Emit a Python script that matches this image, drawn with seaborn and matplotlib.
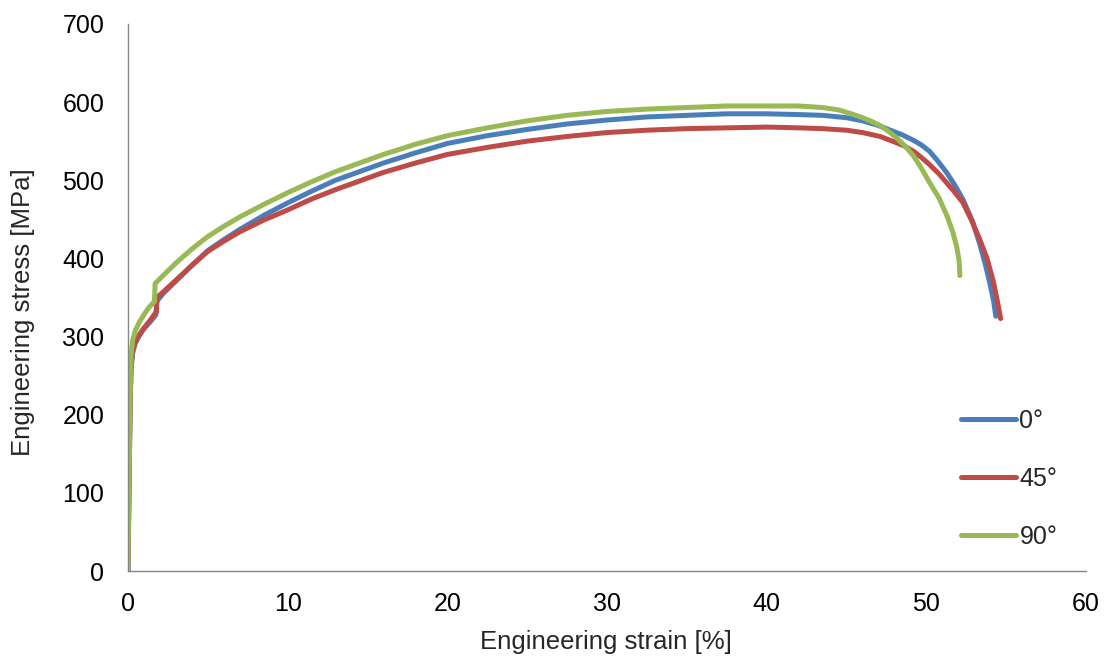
import matplotlib
matplotlib.use("Agg")
import matplotlib.pyplot as plt
import seaborn as sns
import pandas as pd

# ---- data ----
strain_0 = [0, 0.05, 0.1, 0.15, 0.2, 0.3, 0.45, 0.7, 1.0, 1.4, 1.75, 1.8, 2.2, 3, 4, 5, 6, 7,
            8.5, 10, 11.5, 13, 14.5, 16, 18, 20, 22.5, 25, 27.5, 30, 32.5, 35, 37.5, 40,
            42, 43.5, 45, 46, 47, 48, 48.5, 49.2, 49.7, 50.2, 50.7, 51.3, 51.8, 52.3,
            52.9, 53.35, 53.7, 54.0, 54.2, 54.35]
stress_0 = [0, 80, 160, 230, 262, 280, 291, 301, 310, 319, 328, 345, 355, 371, 391, 410, 424, 437,
            455, 471, 486, 500, 511, 522, 535, 547, 557, 565, 572, 577, 581, 583, 585, 585,
            584, 583, 580, 576, 570, 562, 558, 551, 545, 537, 525, 509, 493, 475,
            447, 418, 392, 366, 347, 326]

strain_45 = [0, 0.05, 0.1, 0.15, 0.2, 0.3, 0.45, 0.7, 1.0, 1.4, 1.78, 1.82, 2.2, 3, 4, 5, 6, 7,
             8.5, 10, 11.5, 13, 14.5, 16, 18, 20, 22.5, 25, 27.5, 30, 32.5, 35, 37.5, 40,
             42, 43.5, 45, 46, 47.1, 48, 48.6, 49.2, 49.7, 50.2, 50.8, 51.3, 51.8, 52.3,
             52.8, 53.35, 53.8, 54.2, 54.45, 54.65]
stress_45 = [0, 80, 160, 230, 262, 282, 293, 302, 311, 321, 332, 350, 357, 372, 391, 409, 422, 434,
             449, 462, 476, 488, 499, 510, 522, 533, 542, 550, 556, 561, 564, 566, 567, 568,
             567, 566, 564, 561, 556, 549, 544, 537, 529, 520, 508, 496, 484, 471,
             450, 424, 400, 370, 345, 323]

strain_90 = [0, 0.05, 0.1, 0.15, 0.2, 0.3, 0.45, 0.7, 1.0, 1.3, 1.66, 1.7, 2.2, 3, 4, 5, 6, 7,
             8.5, 10, 11.5, 13, 14.5, 16, 18, 20, 22.5, 25, 27.5, 30, 32.5, 35, 37.5, 40,
             42, 43.5, 44.5, 45.3, 46, 46.6, 47.1, 47.6, 48.2, 48.7, 49.2, 49.7, 50.2,
             50.8, 51.3, 51.65, 51.9, 52.05, 52.1]
stress_90 = [0, 90, 170, 245, 278, 296, 307, 318, 328, 337, 345, 368, 378, 394, 412, 428, 441, 453,
             469, 484, 498, 511, 522, 533, 546, 557, 567, 576, 583, 588, 591, 593, 595, 595,
             595, 593, 590, 585, 580, 575, 570, 563, 553, 543, 531, 515, 497,
             477, 454, 434, 415, 397, 378]

labels = ["0°", "45°", "90°"]
colors = ["#4A7EBB", "#BE4B48", "#98B954"]
x_ticks = [0, 10, 20, 30, 40, 50, 60]
y_ticks = [0, 100, 200, 300, 400, 500, 600, 700]

frames = []
for lab, sx, sy in zip(labels, [strain_0, strain_45, strain_90],
                       [stress_0, stress_45, stress_90]):
    d = pd.DataFrame({"strain": sx, "stress": sy})
    d["orientation"] = lab
    frames.append(d)
df = pd.concat(frames, ignore_index=True)

sns.set_style("white")
plt.rcParams["font.family"] = ["Liberation Sans", "DejaVu Sans"]

fig = plt.figure(figsize=(11.1, 6.64), dpi=100)
ax = fig.add_axes([0.1153, 0.140, 0.8631, 0.824])

sns.lineplot(data=df, x="strain", y="stress", hue="orientation",
             palette=colors, hue_order=labels, sort=False, estimator=None,
             units="orientation", linewidth=3.6, ax=ax, legend=True)

ax.set_xlim(0, 60)
ax.set_ylim(0, 700)
ax.set_xticks(x_ticks)
ax.set_yticks(y_ticks)
for s in ["top", "right"]:
    ax.spines[s].set_visible(False)
for s in ["left", "bottom"]:
    ax.spines[s].set_color("#868686")
    ax.spines[s].set_linewidth(1.0)
ax.tick_params(axis="both", which="major", direction="out", length=6,
               width=1.0, color="#868686", labelsize=18, labelcolor="black")
ax.tick_params(axis="y", pad=11)
ax.tick_params(axis="x", pad=9)

ax.set_xlabel("Engineering strain [%]", fontsize=18.5)
ax.set_ylabel("Engineering stress [MPa]", fontsize=18.5)
ax.xaxis.set_label_coords(0.499, -0.108)
ax.yaxis.set_label_coords(-0.097, 0.473)

leg = ax.legend(loc="upper left", bbox_to_anchor=(0.870, 0.297),
                frameon=False, fontsize=18, handlelength=2.2,
                handletextpad=0.12, labelspacing=1.36, borderpad=0,
                borderaxespad=0)
for line in leg.get_lines():
    line.set_linewidth(3.6)
    line.set_solid_capstyle("round")
for line in ax.get_lines():
    line.set_solid_capstyle("round")
    line.set_solid_joinstyle("round")

fig.savefig("out.png", dpi=100)
